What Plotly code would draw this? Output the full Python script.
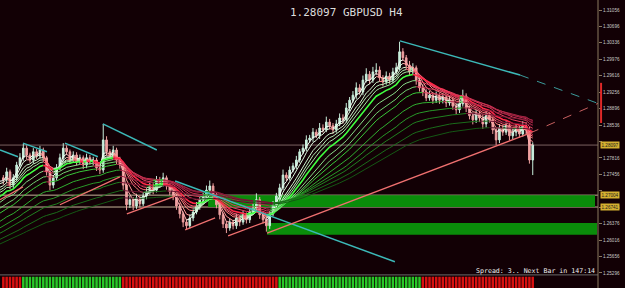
import plotly.graph_objects as go

# ---------------- data ----------------
# hidden history before the first visible bar (only feeds the moving averages)
pre_closes = [1.2522, 1.2530, 1.2518, 1.2535, 1.2541, 1.2533, 1.2550, 1.2558, 1.2547, 1.2563,
              1.2571, 1.2566, 1.2580, 1.2592, 1.2585, 1.2601, 1.2610, 1.2604, 1.2619, 1.2628,
              1.2622, 1.2637, 1.2645, 1.2640, 1.2656, 1.2663, 1.2657, 1.2672, 1.2681, 1.2676,
              1.2690, 1.2698, 1.2693, 1.2707, 1.2715, 1.2709, 1.2722, 1.2730, 1.2724, 1.2738]

closes = [1.2733, 1.2751, 1.2722, 1.2738, 1.2766, 1.2782, 1.2803, 1.2788, 1.2777, 1.2795,
          1.2786, 1.2799, 1.2782, 1.2751, 1.2722, 1.2738, 1.2760, 1.2782, 1.2803, 1.2795,
          1.2777, 1.2788, 1.2773, 1.2782, 1.2766, 1.2782, 1.2773, 1.2777, 1.2760, 1.2755,
          1.2821, 1.2795, 1.2786, 1.2799, 1.2777, 1.2766, 1.2722, 1.2679, 1.2690, 1.2676,
          1.2694, 1.2681, 1.2698, 1.2707, 1.2720, 1.2711, 1.2733, 1.2725, 1.2738, 1.2720,
          1.2707, 1.2698, 1.2676, 1.2659, 1.2641, 1.2633, 1.2650, 1.2663, 1.2676, 1.2690,
          1.2698, 1.2711, 1.2720, 1.2700, 1.2679, 1.2657, 1.2637, 1.2628, 1.2641, 1.2633,
          1.2650, 1.2641, 1.2657, 1.2646, 1.2663, 1.2672, 1.2690, 1.2657, 1.2646, 1.2633,
          1.2659, 1.2679, 1.2698, 1.2716, 1.2744, 1.2738, 1.2755, 1.2764, 1.2777, 1.2795,
          1.2803, 1.2821, 1.2825, 1.2838, 1.2830, 1.2847, 1.2843, 1.2860, 1.2852, 1.2843,
          1.2856, 1.2869, 1.2865, 1.2891, 1.2908, 1.2919, 1.2935, 1.2926, 1.2952, 1.2965,
          1.2952, 1.2970, 1.2974, 1.2957, 1.2948, 1.2961, 1.2952, 1.2970, 1.2979, 1.3014,
          1.3001, 1.2985, 1.2970, 1.2979, 1.2952, 1.2935, 1.2926, 1.2913, 1.2919, 1.2908,
          1.2917, 1.2908, 1.2915, 1.2902, 1.2908, 1.2895, 1.2887, 1.2900, 1.2917, 1.2891,
          1.2874, 1.2865, 1.2878, 1.2869, 1.2856, 1.2874, 1.2865, 1.2843, 1.2821, 1.2847,
          1.2838, 1.2852, 1.2830, 1.2838, 1.2847, 1.2834, 1.2852, 1.2843, 1.2777, 1.28097]

# upper / lower wick length of each bar, in pips
wick_up = [6, 9, 5, 8, 7, 10, 9, 6, 5, 8, 6, 9, 5, 4, 7, 6, 8, 9, 11, 6,
           5, 8, 6, 7, 5, 9, 6, 7, 5, 6, 35, 8, 6, 9, 5, 7, 6, 4, 8, 6,
           9, 5, 7, 8, 10, 6, 9, 7, 11, 5, 6, 4, 5, 7, 5, 6, 8, 6, 9, 7,
           8, 10, 12, 6, 5, 7, 4, 6, 8, 5, 9, 6, 8, 5, 7, 9, 14, 6, 5, 7,
           6, 8, 7, 9, 12, 6, 8, 7, 9, 6, 8, 10, 7, 9, 6, 11, 8, 12, 7, 6,
           9, 10, 8, 11, 7, 9, 12, 8, 10, 13, 7, 11, 15, 8, 6, 10, 7, 9, 11, 22,
           8, 6, 9, 10, 5, 7, 8, 6, 9, 7, 10, 6, 8, 5, 9, 7, 6, 10, 14, 6,
           5, 7, 9, 6, 8, 10, 7, 6, 5, 9, 7, 10, 6, 8, 9, 7, 10, 8, 7, 6]
wick_dn = [10, 7, 9, 6, 8, 5, 7, 9, 6, 8, 7, 6, 9, 8, 11, 7, 6, 5, 8, 7,
           9, 6, 8, 5, 9, 7, 6, 8, 7, 9, 6, 8, 7, 5, 9, 8, 10, 12, 7, 9,
           6, 8, 5, 7, 6, 9, 5, 7, 6, 8, 7, 9, 8, 10, 11, 9, 6, 7, 5, 8,
           6, 5, 7, 9, 8, 10, 9, 11, 6, 8, 7, 9, 6, 8, 7, 5, 6, 9, 8, 13,
           7, 5, 6, 8, 5, 7, 6, 5, 7, 6, 5, 7, 6, 8, 5, 7, 6, 5, 8, 9,
           6, 5, 8, 6, 7, 5, 8, 6, 7, 5, 9, 6, 7, 8, 10, 6, 8, 7, 5, 6,
           7, 9, 8, 6, 10, 8, 9, 7, 6, 8, 6, 8, 7, 9, 6, 8, 10, 7, 6, 9,
           8, 10, 7, 9, 11, 8, 6, 9, 11, 7, 8, 6, 10, 7, 9, 8, 6, 9, 8, 33]

ema_periods = [3, 5, 8, 10, 12, 15, 20, 25, 30, 40, 50, 60, 75, 90]
rise_colors = ['#f4fff4', '#e0fae0', '#ccf4cc', '#b8eeb8', '#a4e8a4', '#40ff40', '#88dc88',
               '#70d070', '#38c838', '#30b030', '#289828', '#208020', '#1a6c1a', '#145814']
fall_colors = ['#ffb0b0', '#ff9898', '#ff8080', '#ff6878', '#f85068', '#ff2848', '#e84060',
               '#d83858', '#c83050', '#b02848', '#982040', '#801838', '#681430', '#501028']

# bottom trend strip: runs of (state, bar count)
strip_runs = [("R", 6), ("G", 30), ("R", 47), ("G", 43), ("R", 34)]

tick_prices = [1.25296, 1.25656, 1.26016, 1.26376, 1.26736, 1.27096, 1.27456, 1.27816,
               1.28176, 1.28536, 1.28896, 1.29256, 1.29616, 1.29976, 1.30336, 1.30696, 1.31056]
hidden_tick_labels = [1.27096, 1.28176]   # covered by the highlighted price boxes

bid_price = 1.28097
level_hi = 1.2700
level_lo = 1.2674
zone1 = (61.5, 177.7, 1.2700, 1.2674)
zone2 = (79.2, 178.3, 1.2639, 1.2613)

# trendlines: x0, p0, x1, p1 (bar index, price)
cyan_lines = [(-1, 1.2799, 4.4, 1.2784), (5.9, 1.2814, 13.1, 1.2795), (18.5, 1.2814, 28.4, 1.2784),
              (29.9, 1.2856, 46.1, 1.2799), (51.6, 1.2731, 117.6, 1.2554), (119.1, 1.3038, 155.2, 1.2963)]
cyan_dashed = [(155.2, 1.2963, 178.6, 1.2901)]
salmon_lines = [(79.2, 1.2617, 158.2, 1.2836), (-1, 1.2690, 5.9, 1.2718), (17, 1.2679, 35, 1.2740),
                (37.1, 1.2659, 51.6, 1.2698), (54.6, 1.2624, 63.6, 1.2650), (67.5, 1.2611, 78.6, 1.2641)]
salmon_dashed = [(158.2, 1.2836, 178.6, 1.2901)]

title_text = "1.28097 GBPUSD H4"
status_text = "Spread: 3.. Next Bar in 147:14"

# ---------------- build ----------------
n = len(closes)
xs = list(range(n))
opens = [pre_closes[-1]] + closes[:-1]
highs = [max(o, c) + u / 10000 for o, c, u in zip(opens, closes, wick_up)]
lows = [min(o, c) - d / 10000 for o, c, d in zip(opens, closes, wick_dn)]

all_close = pre_closes + closes
all_x = list(range(-len(pre_closes), n))


def ema(vals, p):
    a = 2.0 / (p + 1)
    e = vals[0]
    out = []
    for v in vals:
        e = a * v + (1 - a) * e
        out.append(e)
    return out


def split_runs(xv, yv):
    out = {True: ([], []), False: ([], [])}
    cur = None
    for i in range(len(yv) - 1):
        d = yv[i + 1] >= yv[i]
        X, Y = out[d]
        if d != cur:
            if X:
                X.append(None)
                Y.append(None)
            X.append(xv[i])
            Y.append(yv[i])
            cur = d
        X.append(xv[i + 1])
        Y.append(yv[i + 1])
    return out


fig = go.Figure()

BG = '#120005'

for k, p in enumerate(ema_periods):
    e = ema(all_close, p)
    runs = split_runs(all_x, e)
    w = 1.6 if p == 15 else 1.0
    for rising, col in ((True, rise_colors[k]), (False, fall_colors[k])):
        X, Y = runs[rising]
        fig.add_trace(go.Scatter(x=X, y=Y, mode='lines', line=dict(color=col, width=w),
                                 hoverinfo='skip', showlegend=False))

for (x0, p0, x1, p1) in cyan_lines:
    fig.add_trace(go.Scatter(x=[x0, x1], y=[p0, p1], mode='lines',
                             line=dict(color='#3cb8b8', width=1.5), showlegend=False, hoverinfo='skip'))
for (x0, p0, x1, p1) in cyan_dashed:
    fig.add_trace(go.Scatter(x=[x0, x1], y=[p0, p1], mode='lines',
                             line=dict(color='#3a9a9a', width=1, dash='dash'), showlegend=False, hoverinfo='skip'))
for (x0, p0, x1, p1) in salmon_lines:
    fig.add_trace(go.Scatter(x=[x0, x1], y=[p0, p1], mode='lines',
                             line=dict(color='#f07070', width=1.3), showlegend=False, hoverinfo='skip'))
for (x0, p0, x1, p1) in salmon_dashed:
    fig.add_trace(go.Scatter(x=[x0, x1], y=[p0, p1], mode='lines',
                             line=dict(color='#c86060', width=1, dash='dash'), showlegend=False, hoverinfo='skip'))

fig.add_trace(go.Candlestick(
    x=xs, open=opens, high=highs, low=lows, close=closes,
    increasing=dict(line=dict(color='#c8eedc', width=1), fillcolor='#c8eedc'),
    decreasing=dict(line=dict(color='#f0a0a0', width=1), fillcolor='#f0a0a0'),
    whiskerwidth=0, showlegend=False, hoverinfo='skip'))

# bottom strip
strip_x, strip_c = [], []
i = 0
for state, cnt in strip_runs:
    for _ in range(cnt):
        strip_x.append(i)
        strip_c.append('#28c828' if state == 'G' else '#d81010')
        i += 1
fig.add_trace(go.Bar(x=strip_x, y=[1] * len(strip_x), marker=dict(color=strip_c, line=dict(width=0)),
                     yaxis='y2', showlegend=False, hoverinfo='skip'))

shapes = []
for (x0, x1, p0, p1) in (zone1, zone2):
    shapes.append(dict(type='rect', xref='x', yref='y', x0=x0, x1=x1, y0=p1, y1=p0,
                       fillcolor='#0a8c0a', line=dict(width=0), layer='below'))
for lv in (level_hi, level_lo):
    shapes.append(dict(type='line', xref='paper', yref='y', x0=0, x1=1, y0=lv, y1=lv,
                       line=dict(color='#c8b49a', width=1), layer='below'))
shapes.append(dict(type='line', xref='paper', yref='y', x0=0, x1=1, y0=bid_price, y1=bid_price,
                   line=dict(color='#7a6060', width=1), layer='below'))
shapes.append(dict(type='line', xref='paper', yref='paper', x0=0, x1=1, y0=0.0455, y1=0.0455,
                   line=dict(color='#6a6a6a', width=1)))
shapes.append(dict(type='line', xref='paper', yref='paper', x0=1, x1=1, y0=0, y1=1,
                   line=dict(color='#8a7a60', width=1)))
shapes.append(dict(type='rect', xref='paper', yref='y', x0=1.0035, x1=1.0068, y0=1.2858, y1=1.2946,
                   fillcolor='#e02828', line=dict(width=0)))

annotations = [
    dict(text=title_text, xref='paper', yref='paper', x=0.580, y=0.958, showarrow=False,
         xanchor='center', yanchor='middle', font=dict(family='DejaVu Sans Mono', size=11, color='#dcdcdc')),
    dict(text=status_text, xref='paper', yref='paper', x=0.998, y=0.059, showarrow=False,
         xanchor='right', yanchor='middle', font=dict(family='DejaVu Sans Mono', size=6.6, color='#f0f0f0')),
]
for pr, lab in ((bid_price, '1.28097'), (level_hi, '1.27004'), (level_lo, '1.26741')):
    annotations.append(dict(text=lab, xref='paper', yref='y', x=1.004, y=pr, showarrow=False,
                            xanchor='left', yanchor='middle', bgcolor='#d4b030', borderpad=0.5,
                            font=dict(family='Liberation Sans', size=4.6, color='#202020')))

tick_text = ["" if t in hidden_tick_labels else f"{t:.5f}" for t in tick_prices]

fig.update_layout(
    width=625, height=288, margin=dict(l=0, r=27, t=0, b=0),
    paper_bgcolor=BG, plot_bgcolor=BG, showlegend=False, bargap=0.25,
    xaxis=dict(range=[-1, 178.6], visible=False, rangeslider=dict(visible=False), fixedrange=True),
    yaxis=dict(domain=[0.0455, 1], range=[1.25253, 1.31275], side='right', showgrid=False,
               zeroline=False, tickvals=tick_prices, ticktext=tick_text,
               ticks='outside', ticklen=3, tickcolor='#8a7a60', showline=False,
               tickfont=dict(family='Liberation Sans', size=4.6, color='#c8c8c8')),
    yaxis2=dict(domain=[0, 0.040], range=[0, 1], anchor='x', visible=False),
    shapes=shapes, annotations=annotations,
)

fig.write_html("out.html")
